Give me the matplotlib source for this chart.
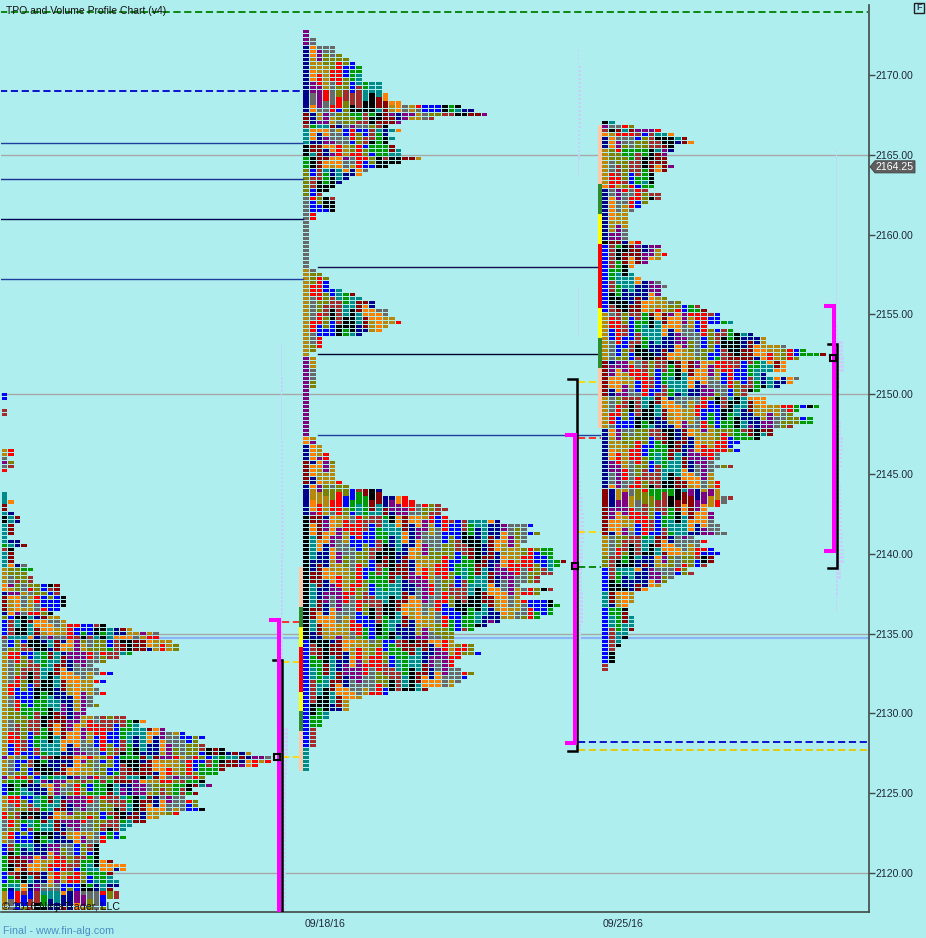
import numpy as np
import matplotlib
matplotlib.use("Agg")
import matplotlib.pyplot as plt
from matplotlib.patches import Polygon, Rectangle

plt.rcParams['font.family'] = ['Liberation Sans', 'DejaVu Sans']

BG = "#AFEEEE"
COLORS = {"blue": "#0000FF", "brown": "#A52A2A", "green": "#009900", "black": "#000000",
          "teal": "#008B8B", "darkred": "#8B0000", "navy": "#00008B", "orange": "#FF8000",
          "purple": "#800080", "gold": "#B8860B", "gray": "#696969", "red": "#FF0000",
          "olive": "#808000"}
CYCLE = list(COLORS.keys())
JUMPS = [0, 0, 1, 0, 2, 0, 1, 3, 0, 0, 2, 1]

# TPO counts per quarter point row, top row first
p1_top = 2150.0
p1_rows = [1, 1, 0, 0, 1, 1, 0, 0, 0, 0, 0, 0, 0, 0, 2, 2, 1, 2, 2, 1, 0, 0, 0, 0, 0,
           1, 1, 2, 1, 1, 2, 3, 3, 2, 2, 2, 1, 3, 4, 2, 2, 2, 2, 4, 5, 4, 5, 5, 9, 9, 9,
           10, 10, 10, 9, 8, 9, 10, 16, 20, 24, 24, 26, 27, 27, 20, 18, 16, 14, 15, 17, 14,
           16, 14, 15, 16, 14, 14, 15, 13, 13, 19, 22, 21, 25, 28, 31, 30, 31, 34, 38, 41,
           41, 39, 34, 33, 31, 31, 32, 29, 30, 28, 30, 30, 31, 27, 24, 22, 20, 19, 18, 19,
           16, 15, 15, 15, 15, 17, 19, 19, 17, 17, 18, 18, 17, 18, 18, 16, 16, 16]
p1_first = [("blue", 2), ("brown", 4), ("gold", 10), ("gray", 1), ("purple", 1), ("gray", 1),
            ("red", 6), ("teal", 3), ("darkred", 2), ("teal", 1), ("black", 2), ("teal", 5),
            ("green", 1), ("brown", 1), ("teal", 4), ("gold", 4), ("orange", 2), ("navy", 1),
            ("darkred", 4), ("navy", 1), ("olive", 1), ("blue", 4), ("brown", 1), ("gray", 3),
            ("gold", 26), ("purple", 1), ("gold", 4), ("purple", 1), ("olive", 1), ("blue", 3),
            ("gold", 4), ("red", 2), ("gray", 3), ("gold", 3), ("blue", 3), ("green", 4),
            ("blue", 3), ("green", 2), ("gold", 5), ("red", 6), ("green", 2), ("gray", 13)]

p2_top = 2172.75
p2_rows = [1, 1, 2, 2, 5, 5, 6, 7, 8, 9, 9, 9, 9, 12, 12, 12, 13, 13, 15, 24, 26, 28, 20, 15,
           13, 15, 13, 14, 13, 14, 15, 15, 18, 15, 13, 10, 9, 7, 6, 5, 4, 3, 5, 5, 5, 5, 2, 2, 1, 1,
           1, 1, 1, 1, 1, 1, 1, 1, 1, 1, 2, 3, 4, 4, 4, 6, 8, 9, 11, 11, 13, 13, 14, 15, 13, 12, 9,
           3, 3, 3, 2, 1, 2, 2, 2, 2, 2, 2, 2, 2, 1, 1, 1, 1, 1, 1, 1, 1, 1, 1,
           1, 1, 2, 2, 3, 3, 4, 4, 5, 5, 5, 5, 5, 6, 7, 12, 12, 16, 17, 21, 22, 21, 22, 30, 35, 34,
           36, 34, 34, 33, 38, 38, 38, 40, 39, 38, 38, 36, 36, 33, 38, 36, 33, 38, 39, 38, 38, 36,
           30, 28, 26, 23, 23, 23, 26, 26, 27, 24, 23, 23, 24, 26, 25, 24, 23, 19, 13, 9, 7, 7, 7,
           4, 4, 3, 3, 2, 2, 2, 2, 2, 1, 1, 1, 1, 1, 1]
p2_first = [("purple", 4), ("navy", 17), ("darkred", 3), ("brown", 1), ("teal", 4), ("black", 3),
            ("green", 3), ("olive", 7), ("gray", 18), ("gold", 22), ("purple", 20), ("orange", 2),
            ("navy", 4), ("darkred", 6), ("navy", 8), ("black", 31), ("blue", 27), ("teal", 6)]

p3_top = 2167.0
p3_rows = [2, 5, 9, 11, 13, 14, 11, 11, 10, 10, 10, 11, 10, 8, 8, 8, 8, 7, 9, 9, 7, 6, 5,
           4, 4, 4, 4, 4, 4, 4, 6, 9, 9, 10, 9, 7, 5, 4, 5, 6, 9, 10, 9, 9, 10, 12,
           15, 16, 18, 18, 20, 16, 20, 23, 25, 25, 28, 31, 34, 30, 28, 28, 28, 25, 30, 29,
           27, 24, 22, 25, 25, 33, 30, 29, 32, 32, 29, 26, 26, 24, 21, 20, 21, 18, 18, 17,
           20, 17, 17, 17, 18, 18,
           18, 18, 20, 19, 18, 16, 17, 17, 17, 18, 18, 19, 14, 16, 15, 17, 18, 17, 17, 16,
           13, 14, 11, 10, 9, 7, 5, 5, 5, 4, 4, 4, 5, 5, 5, 5, 4, 4, 3, 3, 2, 2, 2, 2, 1, 1]
p3_first = [("black", 1), ("purple", 1), ("brown", 1), ("orange", 1), ("navy", 3), ("gold", 9),
            ("orange", 1), ("navy", 13), ("black", 1), ("blue", 17), ("gold", 12), ("darkred", 9),
            ("gold", 8), ("navy", 15), ("darkred", 12), ("gold", 5), ("olive", 3), ("blue", 6),
            ("teal", 4), ("blue", 14), ("brown", 2)]

# volume profile, one value per point, top first
v1_top = 2153.0
v1_vals = [1, 1, 2, 1, 1, 1, 2, 2, 2, 2, 3, 3, 3, 2, 2, 2, 2, 1, 2, 2, 2, 2, 2, 3, 7, 7, 6,
           5, 5, 5, 5, 5, 5, 5, 5, 5]
v2_top = 2171.5
v2_vals = [1, 3, 3, 3, 3, 2, 2, 1, 0, 0, 0, 0, 0, 0, 0, 1, 1, 1, 0, 0, 0, 0, 0, 0, 1, 1, 2, 3,
           5, 6, 6, 5, 4, 4, 5, 5, 3, 2]
v3_top = 2165.25
v3_vals = [1, 1, 1, 1, 1, 1, 1, 1, 1, 1, 1, 2, 7, 8, 4, 2, 2, 5, 7, 6, 4, 5, 6, 6, 7, 8, 5, 2, 1]

# price levels: (price, x0, x1, color, linestyle, width)
levels = [(2173.95, 0, 868, "#008000", (0, (4, 2)), 1.3),
          (2169.0, 0, 303, "#0000CC", (0, (4, 2)), 1.3),
          (2165.75, 0, 303, "#2040A0", "-", 1.0),
          (2163.5, 0, 303, "#1A3090", "-", 1.0),
          (2161.0, 0, 303, "#000050", "-", 1.0),
          (2157.2, 0, 303, "#2040A0", "-", 1.0),
          (2157.95, 318, 598, "#101050", "-", 1.0),
          (2152.5, 318, 598, "#000030", "-", 1.0),
          (2147.45, 318, 600, "#2040A0", "-", 1.0),
          (2128.2, 578, 868, "#0000CC", (0, (4, 2)), 1.3),
          (2127.7, 578, 868, "#E6C800", (0, (4, 2)), 1.3),
          (2135.75, 282, 303, "#FF2020", (0, (4, 2)), 1.3),
          (2133.25, 282, 303, "#FFD800", (0, (4, 2)), 1.3),
          (2127.25, 282, 303, "#FFD800", (0, (4, 2)), 1.3),
          (2150.75, 578, 601, "#FFD800", (0, (4, 2)), 1.3),
          (2147.25, 578, 601, "#FF2020", (0, (4, 2)), 1.3),
          (2141.4, 578, 601, "#FFD800", (0, (4, 2)), 1.3),
          (2139.2, 578, 601, "#008000", (0, (4, 2)), 1.3)]

# value area ranges: (x, high, low)
magenta = [(279, 2135.85, 2110.0), (575.5, 2147.45, 2128.15), (834, 2155.5, 2140.15)]
black = [(282, 2133.35, 2110.0), (577.5, 2150.95, 2127.65), (837, 2153.15, 2139.1)]
poc = [(277.5, 2127.25), (574.7, 2139.25), (833.3, 2152.25)]

# initial balance colour bars: (color, high, low)
ib2 = [("#FFC8A8", 2139.17, 2136.67), ("#2E8B2E", 2136.67, 2135.41), ("#FFFF00", 2135.41, 2134.16),
       ("#FF0000", 2134.16, 2131.34), ("#FFFF00", 2131.34, 2130.15), ("#2E8B2E", 2130.15, 2128.9),
       ("#FFC8A8", 2128.9, 2126.39)]
ib3 = [("#FFC8A8", 2166.89, 2163.17), ("#2E8B2E", 2163.17, 2161.27), ("#FFFF00", 2161.27, 2159.39),
       ("#FF0000", 2159.39, 2155.4), ("#FFFF00", 2155.4, 2153.5), ("#2E8B2E", 2153.5, 2151.62),
       ("#FFC8A8", 2151.62, 2147.9)]

grid_prices = [2165, 2150, 2135, 2120]
tick_prices = [2170, 2165, 2160, 2155, 2150, 2145, 2140, 2135, 2130, 2125, 2120]
date_labels = ["09/18/16", "09/25/16"]
last_price = 2164.25
extra_line = 2134.75

CELL = 6.6
ROW = 0.25


def draw_profile(Ax, x0, top, rows, first):
    names = []
    for name, n in first:
        names += [name] * n
    ys = []; lefts = []; cols = []
    for i, count in enumerate(rows):
        start = CYCLE.index(names[min(i, len(names) - 1)])
        for j in range(count):
            if j == 0:
                idx = start
            else:
                # runs of a colour stay a few rows tall but are staggered from column to column
                idx = start + j + JUMPS[((i + j * 5) // 3 + j // 4) % len(JUMPS)]
            ys.append(top - i * ROW)
            lefts.append(x0 + j * CELL)
            cols.append(COLORS[CYCLE[idx % len(CYCLE)]])
    Ax.barh(ys, [CELL - 1.0] * len(ys), left=lefts, height=0.19, color=cols, linewidth=0, zorder=3)


def draw_volume(Ax, x0, top, vals):
    widths = np.repeat(vals, 4)
    ys = top - np.arange(len(widths)) * ROW
    Ax.barh(ys, widths, left=x0, height=0.17, color="#C4D2FA", linewidth=0, zorder=2)


Fig = plt.figure(figsize=(9.26, 9.38), dpi=100, facecolor=BG)
Ax = Fig.add_axes([1 / 926, 26 / 938, 868 / 926, 907 / 938], facecolor=BG)
Ax.set_xlim(1, 869)
Ax.set_ylim(2117.56, 2174.39)

for spine in ["left", "top"]:
    Ax.spines[spine].set_visible(False)
Ax.spines["right"].set_color("#404848")
Ax.spines["bottom"].set_color("#404848")
Ax.spines["right"].set_linewidth(1.2)
Ax.spines["bottom"].set_linewidth(1.2)

Ax.yaxis.tick_right()
Ax.set_yticks(tick_prices)
Ax.set_yticklabels(["%.2f" % p for p in tick_prices], fontsize=7.6, color="#202838")
Ax.tick_params(axis="y", length=4, width=1, color="#404848", pad=1)
Ax.set_xticks([305, 603])
Ax.set_xticklabels(date_labels, fontsize=7.6, color="#202838", ha="left")
Ax.tick_params(axis="x", length=0, pad=5)

for p in grid_prices:
    Ax.axhline(p, color="#A8A8A8", lw=1, zorder=1)
Ax.axhline(extra_line, color="#8CB4F4", lw=1.6, zorder=1)

draw_volume(Ax, 281, v1_top, v1_vals)
draw_volume(Ax, 578, v2_top, v2_vals)
draw_volume(Ax, 836, v3_top, v3_vals)

draw_profile(Ax, 1.5, p1_top, p1_rows, p1_first)
draw_profile(Ax, 303.5, p2_top, p2_rows, p2_first)
draw_profile(Ax, 602.5, p3_top, p3_rows, p3_first)

for p, x0, x1, c, ls, lw in levels:
    Ax.plot([x0, x1], [p, p], color=c, ls=ls, lw=lw, zorder=4)

for seg, x0 in [(ib2, 299), (ib3, 598)]:
    for c, hi, lo in seg:
        Ax.add_patch(Rectangle((x0, lo), 4, hi - lo, facecolor=c, edgecolor="none", zorder=4))

for x, hi, lo in black:
    Ax.plot([x - 9, x, x, x - 9], [hi, hi, lo, lo], color="black", lw=1.8, zorder=5, solid_joinstyle="miter")
for x, hi, lo in magenta:
    Ax.plot([x - 8, x, x, x - 8], [hi, hi, lo, lo], color="#FF00FF", lw=2.9, zorder=6, solid_joinstyle="miter")
for x, p in poc:
    Ax.plot([x], [p], marker="s", ms=4.2, mfc="none", mec="black", mew=1.5, zorder=7)

# last price tag
Ax.add_patch(Polygon([(870, last_price), (875, last_price + 0.38), (915, last_price + 0.38),
                      (915, last_price - 0.38), (875, last_price - 0.38)],
                     closed=True, facecolor="#5E5E5E", edgecolor="#404040", lw=0.6, clip_on=False, zorder=8))
Ax.text(876, last_price, "%.2f" % last_price, color="white", fontsize=7.6, va="center", ha="left",
        clip_on=False, zorder=9)

Fig.text(6 / 926, 1 - 11 / 938, "TPO and Volume Profile Chart (v4)", fontsize=7.45, color="#101010", va="center", zorder=10)
Fig.text(2 / 926, 1 - 907 / 938, "\u00a9 2016 NinjaTrader, LLC", fontsize=7.7, color="#101010", va="center", zorder=10)
Fig.text(3 / 926, 1 - 931 / 938, "Final - www.fin-alg.com", fontsize=7.65, color="#4A8FC4", va="center")

Fig.patches.append(Rectangle((913.5 / 926, 1 - 13.5 / 938), 10.5 / 926, 10.5 / 938, transform=Fig.transFigure,
                             facecolor=BG, edgecolor="#202020", lw=1))
Fig.text(918.7 / 926, 1 - 8 / 938, "F", fontsize=6.5, fontweight="bold", color="#304060", ha="center", va="center")

Fig.savefig("out.png", dpi=100, facecolor=BG)
